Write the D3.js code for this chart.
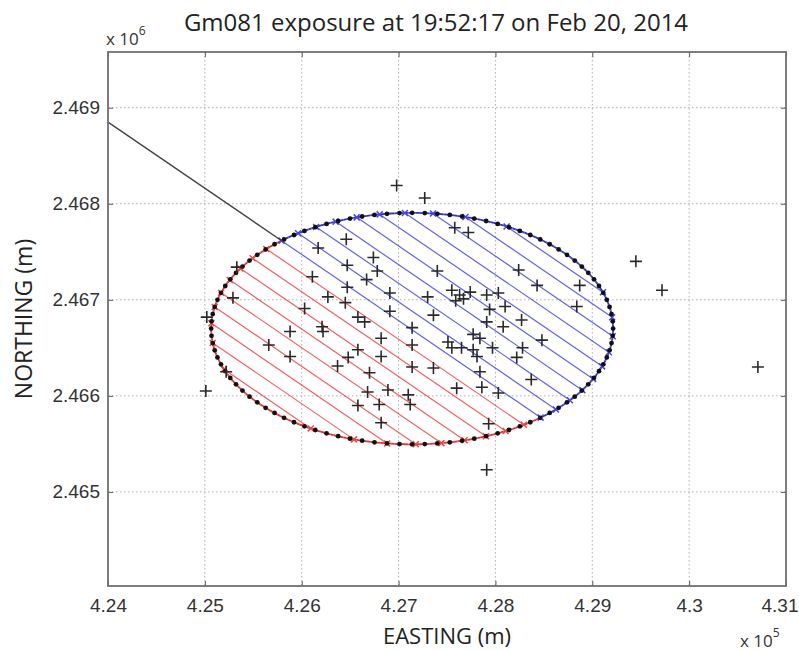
<!DOCTYPE html>
<html>
<head>
<meta charset="utf-8">
<script src="https://cdn.jsdelivr.net/npm/d3@7"></script>
<style>
  body { margin: 0; background: #fff; }
  svg { display: block; font-family: "Open Sans", sans-serif; }
</style>
</head>
<body>
<div id="chart"></div>
<script>
// Axis ticks (metres)
const xTicks = [424000, 425000, 426000, 427000, 428000, 429000, 430000, 431000];
const yTicks = [2465000, 2466000, 2467000, 2468000, 2469000];

// Station positions (easting / northing, metres)
const eastings = [
  426980, 427270, 427580, 427720, 426170, 426460, 426470, 426740, 426780, 426670,
  426110, 426470, 425330, 425290, 426270, 426450, 426030, 426580, 426650, 426210,
  426220, 425880, 425020, 425660, 425880, 426580, 426480, 426370, 426820, 426820,
  426700, 426680, 426580, 426800, 426820, 425220, 425010, 427400, 428240, 428430,
  428870, 428840, 427550, 427630, 427670, 427740, 427590, 427910, 428030, 427300,
  426910, 428100, 427940, 427360, 428270, 427910, 428080, 426910, 427140, 427770,
  427840, 428480, 427510, 427550, 427650, 427770, 427810, 427970, 428280, 428220,
  427840, 428370, 427140, 427140, 427360, 427600, 427860, 428030, 427100, 427120,
  426890, 427930, 427910, 429450, 429720, 430710
];
const northings = [
  2468190, 2468060, 2467750, 2467700, 2467540, 2467630, 2467360, 2467440, 2467300, 2467210,
  2467240, 2467130, 2467340, 2467020, 2467030, 2466970, 2466910, 2466820, 2466770, 2466720,
  2466670, 2466670, 2466820, 2466530, 2466410, 2466480, 2466400, 2466310, 2466600, 2466410,
  2466240, 2466040, 2465900, 2465910, 2465720, 2466250, 2466050, 2467300, 2467310, 2467150,
  2467150, 2466930, 2467100, 2467050, 2467010, 2467080, 2466990, 2467050, 2467070, 2467030,
  2467070, 2466930, 2466900, 2466840, 2466790, 2466770, 2466720, 2466880, 2466710, 2466640,
  2466600, 2466580, 2466560, 2466500, 2466500, 2466480, 2466410, 2466500, 2466500, 2466400,
  2466250, 2466170, 2466530, 2466300, 2466290, 2466080, 2466090, 2466030, 2466010, 2465910,
  2466060, 2465710, 2465230, 2467400, 2467100, 2466300
];

// Exposure footprint ellipse and the direction line
const ellipseCenter = [427140, 2466700];
const ellipseRadii = [2075, 1205];
const dirLineStart = [424000, 2468850];
const dirLineEnd = [425800, 2467610];
const hatchSpacing = 160;
const rimPointCount = 100;

const width = 799, height = 651;
const plot = { left: 108, top: 52, right: 786, bottom: 586 };

const x = d3.scaleLinear().domain([424000, 431000]).range([plot.left, plot.right]);
const y = d3.scaleLinear().domain([2464020, 2469580]).range([plot.bottom, plot.top]);

const svg = d3.select('#chart').append('svg')
  .attr('width', width)
  .attr('height', height);

// Grid
const grid = svg.append('g').attr('class', 'grid')
  .attr('stroke', '#b0b0b0')
  .attr('stroke-width', 1)
  .attr('stroke-dasharray', '1.5,2.5');
grid.selectAll('line.gx').data(xTicks.slice(1, -1)).join('line')
  .attr('class', 'gx')
  .attr('x1', d => x(d)).attr('x2', d => x(d))
  .attr('y1', plot.top).attr('y2', plot.bottom);
grid.selectAll('line.gy').data(yTicks).join('line')
  .attr('class', 'gy')
  .attr('y1', d => y(d)).attr('y2', d => y(d))
  .attr('x1', plot.left).attr('x2', plot.right);

// Hatching geometry (in data space)
const [cx, cy] = ellipseCenter;
const [ra, rb] = ellipseRadii;
let dx = dirLineEnd[0] - dirLineStart[0], dy = dirLineEnd[1] - dirLineStart[1];
const dl = Math.hypot(dx, dy);
dx /= dl; dy /= dl;
const nx = dy, ny = -dx; // points down-left

function chord(o) {
  const px = dirLineStart[0] + o * nx - cx;
  const py = dirLineStart[1] + o * ny - cy;
  const A = dx * dx / (ra * ra) + dy * dy / (rb * rb);
  const B = 2 * (px * dx / (ra * ra) + py * dy / (rb * rb));
  const C = px * px / (ra * ra) + py * py / (rb * rb) - 1;
  const disc = B * B - 4 * A * C;
  if (disc <= 0) return null;
  const t1 = (-B - Math.sqrt(disc)) / (2 * A);
  const t2 = (-B + Math.sqrt(disc)) / (2 * A);
  return [
    [px + cx + t1 * dx, py + cy + t1 * dy],
    [px + cx + t2 * dx, py + cy + t2 * dy]
  ];
}

const hatches = [];
for (let k = -40; k <= 40; k++) {
  const c = chord(k * hatchSpacing);
  if (c) hatches.push({ k, a: c[0], b: c[1], color: k > 0 ? '#ee4848' : '#4848e0' });
}

const side = p => ((p[0] - dirLineStart[0]) * nx + (p[1] - dirLineStart[1]) * ny) > 0;

svg.append('g').attr('class', 'hatch')
  .selectAll('line').data(hatches).join('line')
  .attr('x1', d => x(d.a[0])).attr('y1', d => y(d.a[1]))
  .attr('x2', d => x(d.b[0])).attr('y2', d => y(d.b[1]))
  .attr('stroke', d => d.color)
  .attr('stroke-width', 1.2)
  .attr('stroke-opacity', 0.85);

// Ellipse rim, coloured by side
const rimSegs = d3.range(360).map(i => {
  const a0 = i / 360 * 2 * Math.PI, a1 = (i + 1) / 360 * 2 * Math.PI;
  const p0 = [cx + ra * Math.cos(a0), cy + rb * Math.sin(a0)];
  const p1 = [cx + ra * Math.cos(a1), cy + rb * Math.sin(a1)];
  const m = [(p0[0] + p1[0]) / 2, (p0[1] + p1[1]) / 2];
  return { p0, p1, red: side(m) };
});
svg.append('g').attr('class', 'rim')
  .selectAll('line').data(rimSegs).join('line')
  .attr('x1', d => x(d.p0[0])).attr('y1', d => y(d.p0[1]))
  .attr('x2', d => x(d.p1[0])).attr('y2', d => y(d.p1[1]))
  .attr('stroke', d => d.red ? '#e03030' : '#3030d0')
  .attr('stroke-width', 1.8);

// Hatch end markers
const ends = hatches.flatMap(h => [{ p: h.a, color: h.color }, { p: h.b, color: h.color }]);
svg.append('g').attr('class', 'ends')
  .selectAll('path').data(ends).join('path')
  .attr('transform', d => `translate(${x(d.p[0])},${y(d.p[1])})`)
  .attr('d', 'M-3,-3L3,3M-3,3L3,-3')
  .attr('stroke', d => d.color)
  .attr('stroke-width', 1.5);

// Black rim dots
const rimPts = d3.range(rimPointCount).map(i => {
  const t = i / rimPointCount * 2 * Math.PI;
  return [cx + ra * Math.cos(t), cy + rb * Math.sin(t)];
});
svg.append('g').attr('class', 'rim-dots')
  .selectAll('circle').data(rimPts).join('circle')
  .attr('cx', d => x(d[0])).attr('cy', d => y(d[1]))
  .attr('r', 2.4)
  .attr('fill', '#111');

// Direction line up to the ellipse
svg.append('line')
  .attr('x1', x(dirLineStart[0])).attr('y1', y(dirLineStart[1]))
  .attr('x2', x(dirLineEnd[0])).attr('y2', y(dirLineEnd[1]))
  .attr('stroke', '#444')
  .attr('stroke-width', 1.4);

// Stations
svg.append('g').attr('class', 'stations')
  .selectAll('path').data(eastings.map((e, i) => [e, northings[i]])).join('path')
  .attr('transform', d => `translate(${x(d[0])},${y(d[1])})`)
  .attr('d', 'M-6,0H6M0,-6V6')
  .attr('stroke', '#2a2a2a')
  .attr('stroke-width', 1.6);

// Axes
const fmtX = d => String(+(d / 1e5).toFixed(2));
const fmtY = d => String(+(d / 1e6).toFixed(3));

function styleAxis(g) {
  g.select('.domain').remove();
  g.selectAll('.tick line').attr('stroke', '#555');
  g.selectAll('.tick text').attr('fill', '#333').attr('font-size', 19);
}

svg.append('g').attr('transform', `translate(0,${plot.bottom})`)
  .call(d3.axisBottom(x).tickValues(xTicks).tickFormat(fmtX).tickSize(-5).tickPadding(13))
  .call(styleAxis)
  .call(g => g.selectAll('.tick:last-of-type text').attr('text-anchor', 'end').attr('dx', 12));
svg.append('g').attr('transform', `translate(0,${plot.top})`)
  .call(d3.axisTop(x).tickValues(xTicks).tickFormat('').tickSize(-5))
  .call(styleAxis);
svg.append('g').attr('transform', `translate(${plot.left},0)`)
  .call(d3.axisLeft(y).tickValues(yTicks).tickFormat(fmtY).tickSize(-5).tickPadding(8))
  .call(styleAxis);
svg.append('g').attr('transform', `translate(${plot.right},0)`)
  .call(d3.axisRight(y).tickValues(yTicks).tickFormat('').tickSize(-5))
  .call(styleAxis);

// Box
svg.append('rect')
  .attr('x', plot.left).attr('y', plot.top)
  .attr('width', plot.right - plot.left).attr('height', plot.bottom - plot.top)
  .attr('fill', 'none')
  .attr('stroke', '#707070')
  .attr('stroke-width', 1.8);

// Title and labels
svg.append('text')
  .attr('x', 436).attr('y', 31)
  .attr('text-anchor', 'middle')
  .attr('font-size', 24)
  .attr('fill', '#222')
  .text('Gm081 exposure at 19:52:17 on Feb 20, 2014');

svg.append('text')
  .attr('x', 447).attr('y', 644)
  .attr('text-anchor', 'middle')
  .attr('font-size', 22)
  .attr('fill', '#222')
  .text('EASTING (m)');

svg.append('text')
  .attr('transform', 'translate(32,319) rotate(-90)')
  .attr('text-anchor', 'middle')
  .attr('font-size', 23)
  .attr('fill', '#222')
  .text('NORTHING (m)');

// Exponent labels
const exp6 = svg.append('text').attr('x', 106).attr('y', 45).attr('font-size', 17).attr('fill', '#333');
exp6.append('tspan').text('x 10');
exp6.append('tspan').attr('dy', -10).attr('font-size', 12).text('6');

const exp5 = svg.append('text').attr('x', 740).attr('y', 647).attr('font-size', 17).attr('fill', '#333');
exp5.append('tspan').text('x 10');
exp5.append('tspan').attr('dy', -10).attr('font-size', 12).text('5');
</script>
</body>
</html>
